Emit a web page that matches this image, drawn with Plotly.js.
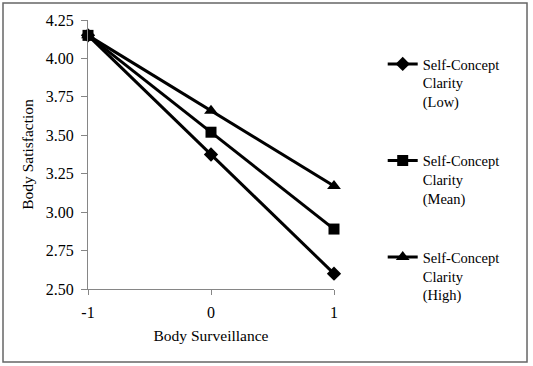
<!DOCTYPE html>
<html>
<head>
<meta charset="utf-8">
<script src="https://cdn.plot.ly/plotly-3.0.1.min.js"></script>
<style>html,body{margin:0;padding:0;background:#fff;}#chart{width:533px;height:366px;}</style>
</head>
<body>
<div id="chart"></div>
<script>
var surveillance = [-1, 0, 1];
var clarityLow = [4.15, 3.375, 2.60];
var clarityMean = [4.15, 3.52, 2.89];
var clarityHigh = [4.15, 3.66, 3.17];
var seriesNames = ["Self-Concept<br>Clarity<br>(Low)", "Self-Concept<br>Clarity<br>(Mean)", "Self-Concept<br>Clarity<br>(High)"];
var yTicks = [2.50, 2.75, 3.00, 3.25, 3.50, 3.75, 4.00, 4.25];
var xTicks = [-1, 0, 1];

var font = "'Liberation Serif', 'Times New Roman', serif";
function mk(y, name, sym, size, grp) {
  return {
    x: surveillance, y: y, name: name, type: 'scatter', mode: 'lines+markers',
    line: {color: '#000', width: 3},
    marker: {symbol: sym, size: size, color: '#000'},
    cliponaxis: false, legendgroup: grp
  };
}
var data = [
  mk(clarityLow, seriesNames[0], 'diamond', 11, 'a'),
  mk(clarityMean, seriesNames[1], 'square', 11, 'b'),
  mk(clarityHigh, seriesNames[2], 'triangle-up', 12, 'c')
];
var layout = {
  width: 533, height: 366,
  margin: {l: 88, r: 199, t: 20, b: 77},
  paper_bgcolor: '#fff', plot_bgcolor: '#fff',
  font: {family: font, size: 15, color: '#000'},
  showlegend: true,
  legend: {
    x: 1.198, y: 0.896, xanchor: 'left', yanchor: 'top',
    font: {family: font, size: 14.5, color: '#000'},
    valign: 'top', tracegroupgap: 37, bgcolor: 'rgba(0,0,0,0)'
  },
  xaxis: {
    range: [-1, 1], tickvals: xTicks, ticktext: xTicks.map(String),
    showgrid: false, zeroline: false, showline: true, linecolor: '#868686', linewidth: 1,
    ticks: 'outside', ticklen: 5, tickcolor: '#868686', ticklabelstandoff: 4,
    title: {text: 'Body Surveillance', font: {family: font, size: 15.5}, standoff: 9},
    tickfont: {family: font, size: 16}
  },
  yaxis: {
    range: [2.5, 4.25], tickvals: yTicks, ticktext: yTicks.map(function(v){return v.toFixed(2);}),
    showgrid: false, zeroline: false, showline: true, linecolor: '#868686', linewidth: 1,
    ticks: 'outside', ticklen: 6, tickcolor: '#868686', ticklabelstandoff: 4,
    title: {text: 'Body Satisfaction', font: {family: font, size: 15.5}, standoff: 8},
    tickfont: {family: font, size: 16}
  },
  shapes: [{
    type: 'rect', xref: 'paper', yref: 'paper',
    x0: -0.3455, x1: 1.7846, y0: -0.2714, y1: 1.0632,
    line: {color: '#666', width: 1.5}, layer: 'below'
  }]
};
Plotly.newPlot('chart', data, layout, {displayModeBar: false, staticPlot: true});
</script>
</body>
</html>
